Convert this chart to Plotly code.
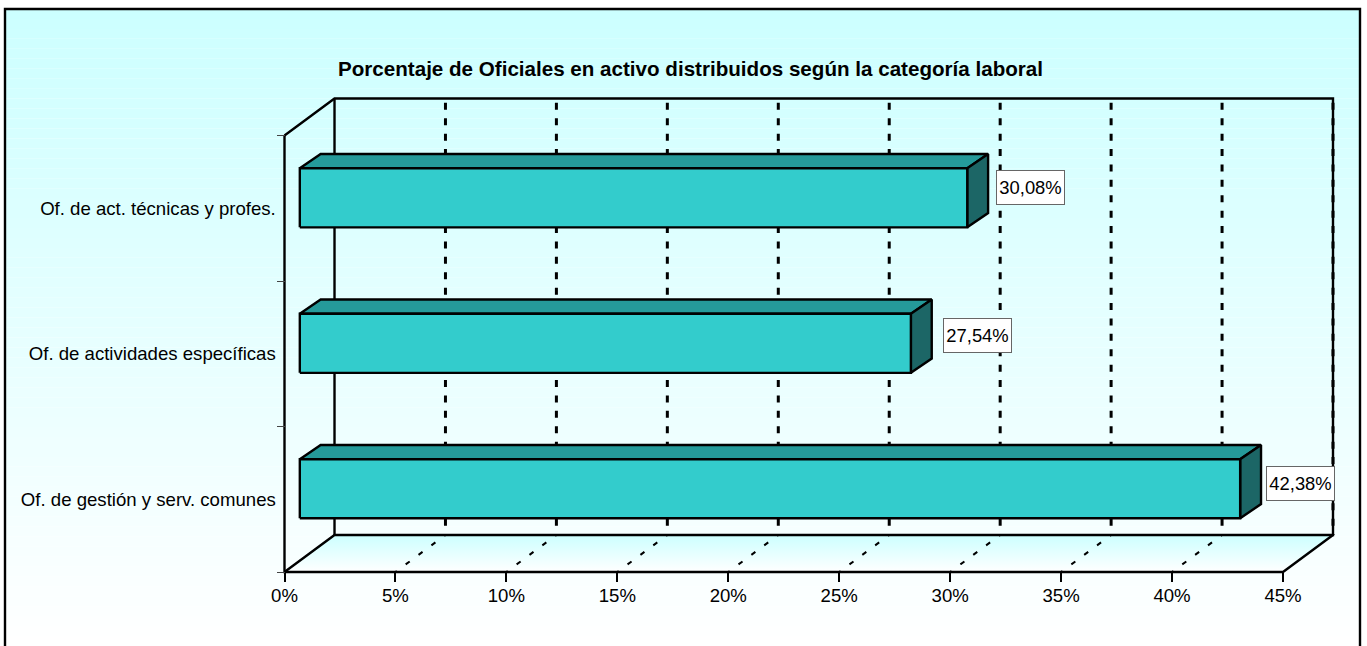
import plotly.graph_objects as go

# ---- data ----
title = "Porcentaje de Oficiales en activo distribuidos según la categoría laboral"
categories = ["Of. de gestión y serv. comunes", "Of. de actividades específicas", "Of. de act. técnicas y profes."]
values = [42.38, 27.54, 30.08]
labels = ["42,38%", "27,54%", "30,08%"]
x_ticks = [0, 5, 10, 15, 20, 25, 30, 35, 40, 45]

# ---- pseudo-3D geometry in data units ----
DX = 2.254      # wall depth along x (percent)
DY = 0.2546     # wall depth along y (category bands)
BAR_H = 0.406
BAR_DX0 = 0.69  # front of bar inside the depth
BAR_DY0 = 0.072
BAR_DDX = 0.94  # bar's own depth
BAR_DDY = 0.098
XMAX = 45
N = len(categories)
FRONT, TOP, SIDE = "#33CCCC", "#259A9A", "#1C6666"
LINE = "#000000"

# axis placement in pixels; a pad keeps edge lines from being clipped
PX_X0, PX_X1, PX_Y0, PX_Y1, PAD = 284.5, 1333, 572, 98.5, 5
PAD_X = PAD * (XMAX + DX) / (PX_X1 - PX_X0)
PAD_Y = PAD * (N + DY) / (PX_Y0 - PX_Y1)

fig = go.Figure()


def line(xs, ys, width=2.4, dash=None, color=LINE):
    fig.add_trace(go.Scatter(x=xs, y=ys, mode="lines", hoverinfo="skip", showlegend=False, cliponaxis=False,
                             line=dict(color=color, width=width, dash=dash)))


def face(xs, ys, fill):
    fig.add_trace(go.Scatter(x=xs + xs[:1], y=ys + ys[:1], mode="lines", fill="toself", fillcolor=fill,
                             hoverinfo="skip", showlegend=False, cliponaxis=False,
                             line=dict(color=LINE, width=2.4)))


# floor with gradient
fig.add_trace(go.Scatter(x=[0, XMAX, XMAX + DX, DX, 0], y=[0, 0, DY, DY, 0], mode="lines", fill="toself",
                         fillgradient=dict(type="vertical", colorscale=[[0, "#FFFFFF"], [1, "#CCFFFF"]]),
                         hoverinfo="skip", showlegend=False, cliponaxis=False,
                         line=dict(color="rgba(0,0,0,0)", width=0)))

# walls and floor outline
line([DX, DX], [DY, N + DY])
line([0, 0, DX, XMAX + DX, XMAX + DX, DX, 0], [N, N, N + DY, N + DY, DY, DY, 0])
line([0, 0, XMAX, XMAX + DX], [N, 0, 0, DY])

# grid lines: back wall and floor (drawn from the back / top)
for t in x_ticks[1:]:
    line([t + DX, t + DX], [N + DY - 0.03, DY], width=3, dash="7px,8.4px")
    if t < XMAX:
        line([t + DX, t], [DY, 0], width=2, dash="1.5px,11px,5px,11px,5px,11px,5px,11px,2px")

# bars
for i, v in enumerate(values):
    x0 = BAR_DX0
    x1 = v + BAR_DX0
    y0 = i + 0.5 - BAR_H / 2 + BAR_DY0
    y1 = y0 + BAR_H
    face([x0, x1, x1 + BAR_DDX, x0 + BAR_DDX], [y1, y1, y1 + BAR_DDY, y1 + BAR_DDY], TOP)
    face([x1, x1 + BAR_DDX, x1 + BAR_DDX, x1], [y0, y0 + BAR_DDY, y1 + BAR_DDY, y1], SIDE)
    face([x0, x1, x1, x0], [y0, y0, y1, y1], FRONT)

# data labels: offsets in px per label
label_shift_x = [60, 67, 63]
label_shift_y = [5.5, 8, 10.5]
for i, (v, t) in enumerate(zip(values, labels)):
    fig.add_annotation(x=v + BAR_DX0, y=i + 0.5 + BAR_DY0, xref="x", yref="y", text=t, showarrow=False,
                       xshift=label_shift_x[i], yshift=label_shift_y[i], width=67, height=33,
                       font=dict(family="Liberation Sans, Arial", size=18.4, color="#000000"),
                       bgcolor="#FFFFFF", bordercolor="#666666", borderwidth=1, borderpad=0)

# page background gradient and frame
shapes = []
TOP_PX, BOT_PX, L_PX, R_PX = 9, 646, 5, 1360
STRIPS = 64
for k in range(STRIPS):
    a = k / STRIPS
    b = (k + 1) / STRIPS
    r = round(204 + 51 * (a + b) / 2)
    shapes.append(dict(type="rect", layer="below", xref="paper", yref="paper",
                       x0=L_PX / 1367, x1=R_PX / 1367,
                       y0=1 - (TOP_PX + (BOT_PX - TOP_PX) * a) / 646,
                       y1=1 - (TOP_PX + (BOT_PX - TOP_PX) * b) / 646,
                       fillcolor=f"rgb({r},255,255)", line=dict(width=0)))
shapes.append(dict(type="rect", layer="below", xref="paper", yref="paper",
                   x0=L_PX / 1367, x1=R_PX / 1367, y0=-0.02, y1=1 - TOP_PX / 646,
                   fillcolor="rgba(0,0,0,0)", line=dict(color="#000000", width=2.4)))

font = dict(family="Liberation Sans, Arial", size=18.6, color="#000000")
fig.update_layout(
    width=1367, height=646, autosize=False, margin=dict(l=0, r=0, t=0, b=0),
    paper_bgcolor="#FFFFFF", plot_bgcolor="rgba(0,0,0,0)", showlegend=False, shapes=shapes, font=font,
    xaxis=dict(domain=[(PX_X0 - PAD) / 1367, (PX_X1 + PAD) / 1367], range=[-PAD_X, XMAX + DX + PAD_X],
               anchor="free", position=(646 - PX_Y0) / 646,
               tickmode="array", tickvals=x_ticks,
               ticktext=[f"{t}%" for t in x_ticks], ticks="outside", ticklen=9, tickwidth=1.5, tickcolor="#000000",
               showgrid=False, zeroline=False, showline=False, fixedrange=True, tickfont=font, automargin=False,
               ticklabelstandoff=-2),
    yaxis=dict(domain=[(646 - PX_Y0 - PAD) / 646, (646 - PX_Y1 + PAD) / 646], range=[-PAD_Y, N + DY + PAD_Y],
               anchor="free", position=PX_X0 / 1367,
               tickmode="array", tickvals=[i + 0.5 for i in range(N)], ticktext=categories, ticks="outside",
               ticklen=8, tickcolor="rgba(0,0,0,0)", ticklabelstandoff=-3,
               showgrid=False, zeroline=False, showline=False, fixedrange=True,
               tickfont=font, automargin=False,
               minor=dict(tickmode="array", tickvals=list(range(N + 1)), ticks="outside", ticklen=8,
                          tickwidth=1, tickcolor="#444444", showgrid=False)),
    annotations=list(fig.layout.annotations) + [
        dict(text=f"<b>{title}</b>", xref="paper", yref="paper", x=690 / 1367, y=1 - 68 / 646, showarrow=False,
             yanchor="middle", xanchor="center",
             font=dict(family="Liberation Sans, Arial", size=20.6, color="#000000"))],
)
fig.write_html("out.html", config=dict(displayModeBar=False),
               post_script="document.body.style.margin='0';document.body.style.overflow='hidden';")
